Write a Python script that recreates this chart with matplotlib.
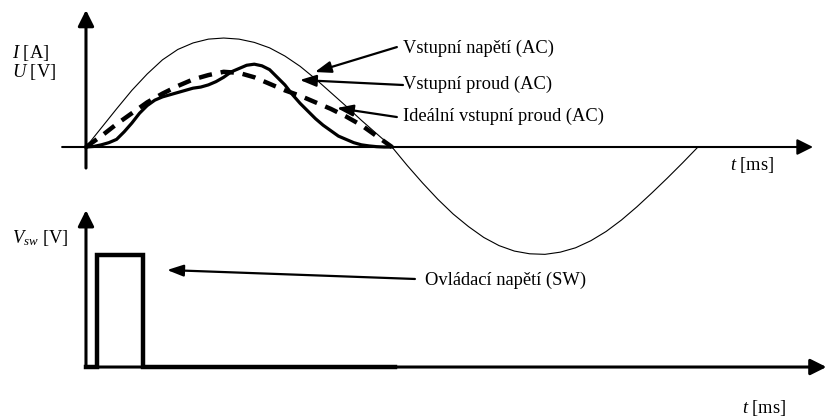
import matplotlib
matplotlib.use("Agg")
import matplotlib.pyplot as plt

# Values (t in ms, amplitudes normalised to voltage peak)
t_half = [0.0, 0.5, 1.0, 1.5, 2.0, 2.5, 3.0, 3.5, 4.0, 4.5, 5.0,
          5.5, 6.0, 6.5, 7.0, 7.5, 8.0, 8.5, 9.0, 9.5, 10.0]
t_full = t_half + [10.5, 11.0, 11.5, 12.0, 12.5, 13.0, 13.5, 14.0, 14.5, 15.0,
                   15.5, 16.0, 16.5, 17.0, 17.5, 18.0, 18.5, 19.0, 19.5, 20.0]
u_in = [0.0, 0.175, 0.35, 0.52, 0.67, 0.80, 0.895, 0.955, 0.99, 1.0, 0.99,
        0.96, 0.91, 0.835, 0.74, 0.625, 0.50, 0.375, 0.245, 0.122, 0.0,
        -0.17, -0.33, -0.48, -0.615, -0.73, -0.83, -0.905, -0.955, -0.98, -0.985,
        -0.965, -0.925, -0.86, -0.775, -0.67, -0.55, -0.42, -0.285, -0.145, 0.0]
i_ideal = [0.0, 0.10, 0.21, 0.31, 0.41, 0.49, 0.56, 0.62, 0.66, 0.69, 0.68,
           0.64, 0.58, 0.52, 0.47, 0.41, 0.35, 0.28, 0.20, 0.10, 0.0]
t_cur = [0.0, 0.25, 0.5, 0.75, 1.0, 1.25, 1.5, 1.75, 2.0, 2.25, 2.5,
         2.75, 3.0, 3.25, 3.5, 3.75, 4.0, 4.25, 4.5, 4.75, 5.0,
         5.25, 5.5, 5.75, 6.0, 6.25, 6.5, 6.75, 7.0, 7.25, 7.5,
         7.75, 8.0, 8.25, 8.5, 8.75, 9.0, 9.25, 9.5, 9.75, 10.0]
i_in = [0.0, 0.005, 0.02, 0.04, 0.07, 0.14, 0.22, 0.31, 0.38, 0.43, 0.46,
        0.48, 0.50, 0.52, 0.54, 0.55, 0.57, 0.60, 0.64, 0.69, 0.72,
        0.75, 0.76, 0.745, 0.71, 0.64, 0.57, 0.48, 0.40, 0.33, 0.26,
        0.20, 0.15, 0.10, 0.07, 0.04, 0.02, 0.01, 0.003, 0.0, 0.0]
t_sw = [0.0, 0.36, 0.36, 1.86, 1.86, 10.1]
v_sw = [0.0, 0.0, 1.0, 1.0, 0.0, 0.0]

labels_top = ["Vstupní napětí (AC)", "Vstupní proud (AC)", "Ideální vstupní proud (AC)"]
label_sw = "Ovládací napětí (SW)"

plt.rcParams['font.family'] = ['Liberation Serif', 'DejaVu Serif']
plt.rcParams['mathtext.fontset'] = 'custom'
plt.rcParams['mathtext.it'] = 'Liberation Serif:italic'
plt.rcParams['mathtext.rm'] = 'Liberation Serif'
FS = 13.3

fig = plt.figure(figsize=(8.28, 4.19), dpi=100)
ax1 = fig.add_axes([0, 119 / 419, 1, 300 / 419])
ax2 = fig.add_axes([0, 0, 1, 219 / 419])
for ax in (ax1, ax2):
    ax.set_xlim(-2.81, 24.25)
    ax.axis("off")
    ax.patch.set_alpha(0)
ax1.set_ylim(-1.404, 1.349)
ax2.set_ylim(-0.464, 1.491)

def axis_arrow(ax, start, end, lw, scale=16):
    ax.annotate("", xy=end, xytext=start,
                arrowprops=dict(arrowstyle="-|>,head_length=0.6,head_width=0.3",
                                lw=lw, color="black", mutation_scale=scale,
                                shrinkA=0, shrinkB=0))

# top panel
axis_arrow(ax1, (-0.78, 0), (23.76, 0), 1.5)
axis_arrow(ax1, (0, -0.193), (0, 1.257), 2.2)
ax1.plot(t_full, u_in, color="black", lw=0.8)
ax1.plot(t_half, i_ideal, color="black", lw=3.2, linestyle=(0, (3, 2)),
         solid_capstyle="butt", dash_capstyle="butt")
ax1.plot(t_cur, i_in, color="black", lw=2.3, solid_joinstyle="round")

ax1.text(-2.42, 0.862, r"$I$ [A]", fontsize=FS, va="center", ha="left")
ax1.text(-2.42, 0.688, r"$U$ [V]", fontsize=FS, va="center", ha="left")
ax1.text(21.05, -0.165, r"$t$ [ms]", fontsize=FS, va="center", ha="left")

text_pos = [(10.36, 0.908), (10.36, 0.578), (10.36, 0.284)]
arrow_from = [(10.16, 0.917), (10.36, 0.569), (10.16, 0.275)]
arrow_to = [(7.48, 0.688), (6.99, 0.615), (8.2, 0.358)]
arrow_kw = dict(arrowstyle="-|>,head_length=0.7,head_width=0.25", lw=1.6,
                color="black", mutation_scale=14, shrinkA=0, shrinkB=0)
for lab, tp, a0, a1 in zip(labels_top, text_pos, arrow_from, arrow_to):
    ax1.text(tp[0], tp[1], lab, fontsize=FS, va="center", ha="left")
    ax1.annotate("", xy=a1, xytext=a0, arrowprops=arrow_kw)

# bottom panel
axis_arrow(ax2, (0, 0), (24.2, 0), 2.2)
axis_arrow(ax2, (0, 0), (0, 1.40), 2.2)
ax2.plot(t_sw, v_sw, color="black", lw=3.2, solid_joinstyle="miter")
ax2.text(-2.42, 1.152, r"$V_{sw}$ [V]", fontsize=FS, va="center", ha="left")
ax2.text(11.08, 0.777, label_sw, fontsize=FS, va="center", ha="left")
ax2.annotate("", xy=(2.65, 0.866), xytext=(10.75, 0.786), arrowprops=arrow_kw)
ax2.text(21.44, -0.366, r"$t$ [ms]", fontsize=FS, va="center", ha="left")

fig.savefig("out.png", dpi=100)
